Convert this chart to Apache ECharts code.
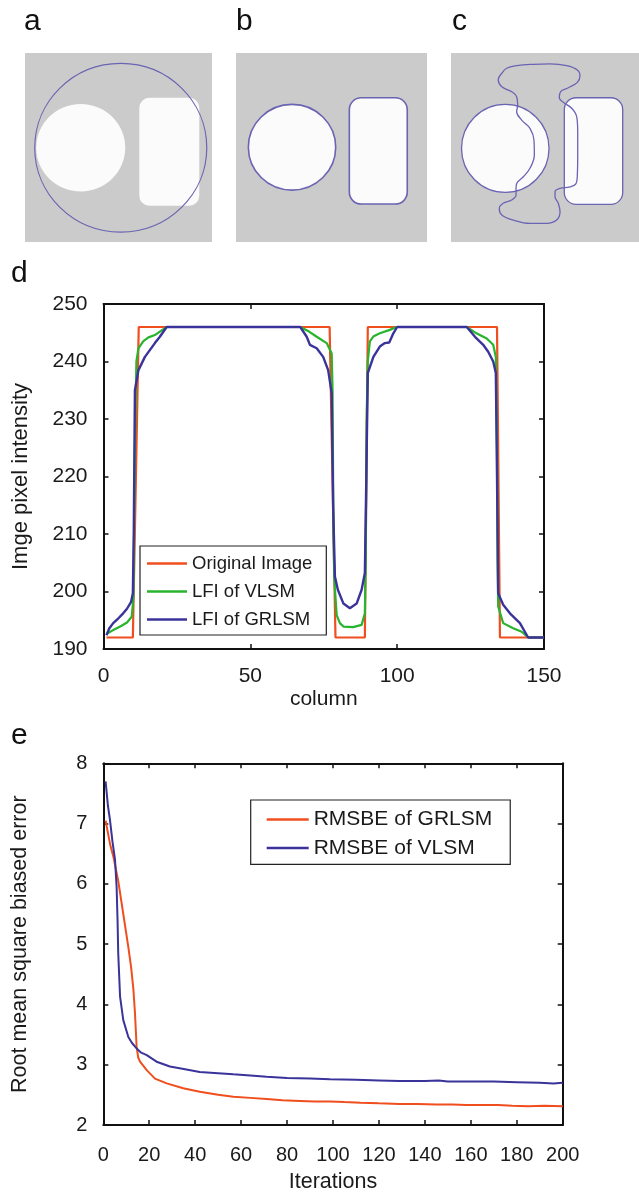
<!DOCTYPE html>
<html>
<head>
<meta charset="utf-8">
<title>LFI / RMSBE</title>
<script src="https://cdn.jsdelivr.net/npm/echarts@6/dist/echarts.min.js"></script>
<style>
  html, body { margin: 0; padding: 0; background: #fff; }
  #main { width: 639px; height: 1194px; }
</style>
</head>
<body>
<div id="main"></div>
<script>
// panels a-c, in image pixels (150 x 150), [cx, cy, rx, ry] and [x0, y0, x1, y1, r]
const aCircle = [[44.7, 75.2, 35.7, 34.7]];
const aRect = [[91.7, 35.5, 139.8, 121.2, 8]];
const aContour = [[76.8, 75.2, 69, 66.9]];
const bCircle = [[44, 74.8, 34.3, 34]];
const bRect = [[89, 35.5, 134.5, 119.9, 9.4]];
const cCircle = [[43.3, 75.7, 34.9, 34.9]];
const cRect = [[90.4, 35.5, 137, 120.1, 9.4]];
const cContour = [
  [40.5, 16.1], [44.4, 12.1], [52.4, 10.1], [65.7, 9.0], [79.0, 8.7], [92.3, 10.1],
  [100.8, 13.5], [102.9, 18.0], [100.8, 23.3], [93.6, 27.6], [87.5, 30.7], [86.4, 35.5],
  [89.6, 39.1], [96.3, 43.9], [100.3, 50.6], [101.1, 62.5], [101.1, 81.0], [100.8, 96.9],
  [99.8, 103.5], [95.0, 106.2], [87.0, 107.4], [83.0, 110.1], [83.0, 114.1], [85.6, 119.3],
  [87.0, 126.0], [84.3, 132.6], [76.4, 135.2], [63.0, 135.2], [49.7, 132.6], [40.5, 128.6],
  [38.5, 123.3], [41.7, 119.3], [48.4, 116.7], [51.9, 112.7], [51.9, 107.4], [52.4, 103.5],
  [57.7, 98.2], [63.0, 91.5], [66.5, 81.0], [66.2, 69.1], [63.0, 59.8], [56.4, 53.2],
  [52.4, 46.6], [53.2, 41.3], [52.4, 34.7], [48.4, 30.7], [40.5, 26.8], [37.7, 21.4],
  [40.5, 16.1]
];

// panel d: [column, intensity]
const originalImage = [
  [1, 192], [10, 192], [12, 246], [77, 246], [79, 192], [89, 192], [90, 246],
  [134, 246], [135, 192], [150, 192]
];
const lfiVlsm = [
  [1, 192.6], [3, 193.2], [6, 194], [8, 194.6], [9.6, 195.6], [10.2, 199], [10.7, 225],
  [11.2, 240], [11.9, 242.3], [13.5, 243.5], [15.3, 244.2], [17.5, 244.6], [19.2, 245.2],
  [21.5, 246], [67, 246], [70, 245.2], [72.6, 244.3], [76, 243.2], [77.7, 241.4], [78, 235],
  [78.3, 210], [78.6, 202], [79.4, 195.9], [80.5, 194.5], [81.7, 193.9], [85, 193.8],
  [87.9, 194.2], [89, 196.2], [89.3, 205], [89.6, 230], [90, 240], [90.7, 243.5], [92, 244.4],
  [94.1, 244.9], [97.5, 245.5], [99.8, 246], [123.7, 246], [127, 244.9], [130.5, 244],
  [132.7, 242.9], [133.6, 240.8], [134, 225], [134.2, 205], [134.4, 197.4], [136.1, 194.5],
  [139.5, 193.6], [142.4, 193], [144.6, 192], [150, 192]
];
const lfiGrlsm = [
  [1, 192.4], [2, 193.6], [3.3, 194.5], [5, 195.3], [6.7, 196.2], [8, 197], [9.4, 198.2],
  [10, 199.7], [10.3, 210], [10.7, 235], [11.9, 238.5], [14.1, 240.8], [17.5, 243.2],
  [19.2, 244.3], [21.5, 246], [67, 246], [69.2, 244.3], [70.3, 242.9], [72.6, 242.3],
  [74.8, 240.8], [76.5, 238.5], [77.7, 234.5], [78.2, 215], [78.8, 202.6], [79.8, 200.3],
  [81.7, 197.9], [83.9, 197.1], [86.2, 197.9], [87.9, 200.3], [89, 203.2], [89.5, 220],
  [90, 238], [91.9, 240.8], [94.1, 242.6], [95.8, 243.2], [97.3, 243.3], [98.7, 244.9],
  [100, 246], [123.7, 246], [126.5, 244.3], [129.3, 242.9], [131, 241.7], [132.7, 240],
  [133.6, 238], [134, 220], [134.4, 199.7], [136.1, 197.7], [138.4, 196.2], [141.8, 194.5],
  [144.6, 192], [150, 192]
];

// panel e: [iteration, RMSBE]
const rmsbeGrlsm = [
  [1, 7.05], [2, 6.85], [3, 6.65], [4.4, 6.45], [6.5, 6.05], [8.7, 5.5], [10.9, 4.95],
  [12.1, 4.62], [13.1, 4.25], [13.8, 3.85], [14.5, 3.3], [15.2, 3.12], [16, 3.05],
  [18.9, 2.91], [22.5, 2.77], [27.6, 2.69], [34.8, 2.61], [42, 2.55], [50, 2.5], [56.6, 2.47],
  [64, 2.45], [71.1, 2.43], [78, 2.41], [85.6, 2.4], [92, 2.39], [98.7, 2.39], [105, 2.38],
  [112, 2.37], [120, 2.36], [129, 2.35], [137, 2.35], [145, 2.34], [152, 2.34], [158, 2.33],
  [165, 2.33], [172, 2.33], [178, 2.32], [185, 2.31], [192, 2.32], [200, 2.31]
];
const rmsbeVlsm = [
  [1, 7.7], [2, 7.3], [2.9, 7.06], [4, 6.7], [5.1, 6.4], [5.8, 5.95], [6.2, 5.4], [6.5, 4.85],
  [7.3, 4.13], [8.7, 3.74], [10.9, 3.46], [12.5, 3.36], [14.5, 3.27], [16.5, 3.2], [18.9, 3.16],
  [23.2, 3.05], [29, 2.97], [35, 2.93], [42, 2.88], [50, 2.86], [56.6, 2.84], [64, 2.82],
  [71.1, 2.8], [80, 2.78], [90, 2.77], [98.7, 2.76], [110, 2.75], [120, 2.74], [129, 2.73],
  [140, 2.73], [146, 2.74], [150, 2.72], [158, 2.72], [170, 2.72], [180, 2.71], [190, 2.7],
  [196, 2.69], [200, 2.7]
];

const FONT = 'Liberation Sans, Arial, Helvetica, sans-serif';
const RED = '#f04e1e';
const GREEN = '#29b42e';
const BLUE = '#3a3399';
const CONTOUR = '#6a64b2';

function ellipseRenderer(fill, stroke, width) {
  return function (params, api) {
    const c = api.coord([api.value(0), api.value(1)]);
    const s = api.size([api.value(2), api.value(3)]);
    return {
      type: 'ellipse',
      shape: { cx: c[0], cy: c[1], rx: s[0], ry: s[1] },
      style: { fill: fill, stroke: stroke, lineWidth: width },
    };
  };
}

function rectRenderer(fill, stroke, width) {
  return function (params, api) {
    const p0 = api.coord([api.value(0), api.value(1)]);
    const p1 = api.coord([api.value(2), api.value(3)]);
    const r = api.size([api.value(4), 0])[0];
    return {
      type: 'rect',
      shape: {
        x: Math.min(p0[0], p1[0]),
        y: Math.min(p0[1], p1[1]),
        width: Math.abs(p1[0] - p0[0]),
        height: Math.abs(p1[1] - p0[1]),
        r: r,
      },
      style: { fill: fill, stroke: stroke, lineWidth: width },
    };
  };
}

function shapeSeries(idx, data, render) {
  return {
    type: 'custom',
    xAxisIndex: idx,
    yAxisIndex: idx,
    renderItem: render,
    data: data,
    silent: true,
  };
}

const panelGrids = [
  { left: 25, top: 53, width: 187, height: 189 },
  { left: 236, top: 53, width: 191, height: 189 },
  { left: 451, top: 53, width: 188, height: 189 },
].map((g) => Object.assign(g, { show: true, backgroundColor: '#cbcbcb', borderWidth: 0 }));

const panelX = [0, 1, 2].map((i) => ({ gridIndex: i, type: 'value', min: 0, max: 150, show: false }));
const panelY = [0, 1, 2].map((i) => ({ gridIndex: i, type: 'value', min: 0, max: 150, inverse: true, show: false }));

function frameAxis(gridIndex, position, min, max, interval, fontSize, margin, visibleLabel) {
  return {
    gridIndex: gridIndex,
    type: 'value',
    position: position,
    min: min,
    max: max,
    interval: interval,
    splitLine: { show: false },
    axisLine: { onZero: false, lineStyle: { color: '#111', width: 2 } },
    axisTick: { inside: true, length: 5, lineStyle: { color: '#111', width: 1.5 } },
    axisLabel: {
      show: visibleLabel,
      color: '#1a1a1a',
      fontSize: fontSize,
      fontFamily: FONT,
      margin: margin,
    },
  };
}

const dxBottom = Object.assign(frameAxis(3, 'bottom', 0, 150, 50, 21, 17, true), {
  name: 'column', nameLocation: 'middle', nameGap: 40,
  nameTextStyle: { fontSize: 21, color: '#1a1a1a', fontFamily: FONT },
});
const dyLeft = Object.assign(frameAxis(3, 'left', 190, 250, 10, 21, 16, true), {
  name: 'Imge pixel intensity', nameLocation: 'middle', nameGap: 72,
  nameTextStyle: { fontSize: 22, color: '#1a1a1a', fontFamily: FONT },
});
const exBottom = Object.assign(frameAxis(4, 'bottom', 0, 200, 20, 20, 20, true), {
  name: 'Iterations', nameLocation: 'middle', nameGap: 46,
  nameTextStyle: { fontSize: 21.5, color: '#1a1a1a', fontFamily: FONT },
});
const eyLeft = Object.assign(frameAxis(4, 'left', 2, 8, 1, 20, 16, true), {
  name: 'Root mean square biased error', nameLocation: 'middle', nameGap: 72,
  nameTextStyle: { fontSize: 21.5, color: '#1a1a1a', fontFamily: FONT },
});

function curve(name, xi, yi, data, color, width) {
  return {
    name: name,
    type: 'line',
    xAxisIndex: xi,
    yAxisIndex: yi,
    data: data,
    symbol: 'none',
    smooth: false,
    itemStyle: { color: color },
    lineStyle: { color: color, width: width },
    z: 3,
  };
}

const chart = echarts.init(document.getElementById('main'), null, { renderer: 'canvas' });

const option = {
  animation: false,
  backgroundColor: '#fff',
  textStyle: { fontFamily: FONT },
  title: [
    { text: 'a', left: 24, top: 7 },
    { text: 'b', left: 236, top: 7 },
    { text: 'c', left: 452, top: 7 },
    { text: 'd', left: 11, top: 259 },
    { text: 'e', left: 11, top: 721 },
  ].map((t) => Object.assign(t, {
    padding: 0,
    textStyle: { fontSize: 30, fontWeight: 'normal', color: '#111', fontFamily: FONT },
  })),
  grid: panelGrids.concat([
    { left: 103.5, top: 304, width: 440.5, height: 345 },
    { left: 103.3, top: 763.3, width: 459.4, height: 361.7 },
  ]),
  xAxis: panelX.concat([
    dxBottom,
    frameAxis(3, 'top', 0, 150, 50, 21, 15, false),
    exBottom,
    frameAxis(4, 'top', 0, 200, 20, 20, 17, false),
  ]),
  yAxis: panelY.concat([
    dyLeft,
    frameAxis(3, 'right', 190, 250, 10, 21, 16, false),
    eyLeft,
    frameAxis(4, 'right', 2, 8, 1, 20, 16, false),
  ]),
  legend: [
    {
      orient: 'vertical',
      left: 140,
      top: 546,
      data: ['Original Image', 'LFI of VLSM', 'LFI of GRLSM'],
      icon: 'rect',
      itemWidth: 40,
      itemHeight: 2.5,
      itemGap: 9,
      padding: [8, 14, 6, 7],
      backgroundColor: '#fff',
      borderColor: '#222',
      borderWidth: 1.2,
      borderRadius: 0,
      textStyle: { fontSize: 18.5, lineHeight: 18, color: '#1a1a1a', fontFamily: FONT },
    },
    {
      orient: 'vertical',
      left: 250.7,
      top: 800,
      data: ['RMSBE of GRLSM', 'RMSBE of VLSM'],
      icon: 'rect',
      itemWidth: 42,
      itemHeight: 2.5,
      itemGap: 7.4,
      padding: [9, 18, 6, 16],
      backgroundColor: '#fff',
      borderColor: '#222',
      borderWidth: 1.2,
      borderRadius: 0,
      textStyle: { fontSize: 21, lineHeight: 21, color: '#1a1a1a', fontFamily: FONT },
    },
  ],
  series: [
    // a
    shapeSeries(0, aCircle, ellipseRenderer('#fbfbfb', null, 0)),
    shapeSeries(0, aRect, rectRenderer('#fbfbfb', null, 0)),
    shapeSeries(0, aContour, ellipseRenderer('none', CONTOUR, 1.2)),
    // b
    shapeSeries(1, bCircle, ellipseRenderer('#fbfbfb', CONTOUR, 1.6)),
    shapeSeries(1, bRect, rectRenderer('#fbfbfb', CONTOUR, 1.6)),
    // c
    shapeSeries(2, cCircle, ellipseRenderer('#fbfbfb', CONTOUR, 1.3)),
    shapeSeries(2, cRect, rectRenderer('#fbfbfb', CONTOUR, 1.3)),
    {
      type: 'line',
      xAxisIndex: 2,
      yAxisIndex: 2,
      data: cContour,
      symbol: 'none',
      smooth: 0.4,
      silent: true,
      lineStyle: { color: CONTOUR, width: 1.3 },
    },
    // d
    curve('Original Image', 3, 3, originalImage, RED, 2.2),
    curve('LFI of VLSM', 3, 3, lfiVlsm, GREEN, 2.2),
    curve('LFI of GRLSM', 3, 3, lfiGrlsm, BLUE, 2.4),
    // e
    curve('RMSBE of GRLSM', 5, 5, rmsbeGrlsm, RED, 2),
    curve('RMSBE of VLSM', 5, 5, rmsbeVlsm, BLUE, 2),
  ],
};

chart.setOption(option);
</script>
</body>
</html>
